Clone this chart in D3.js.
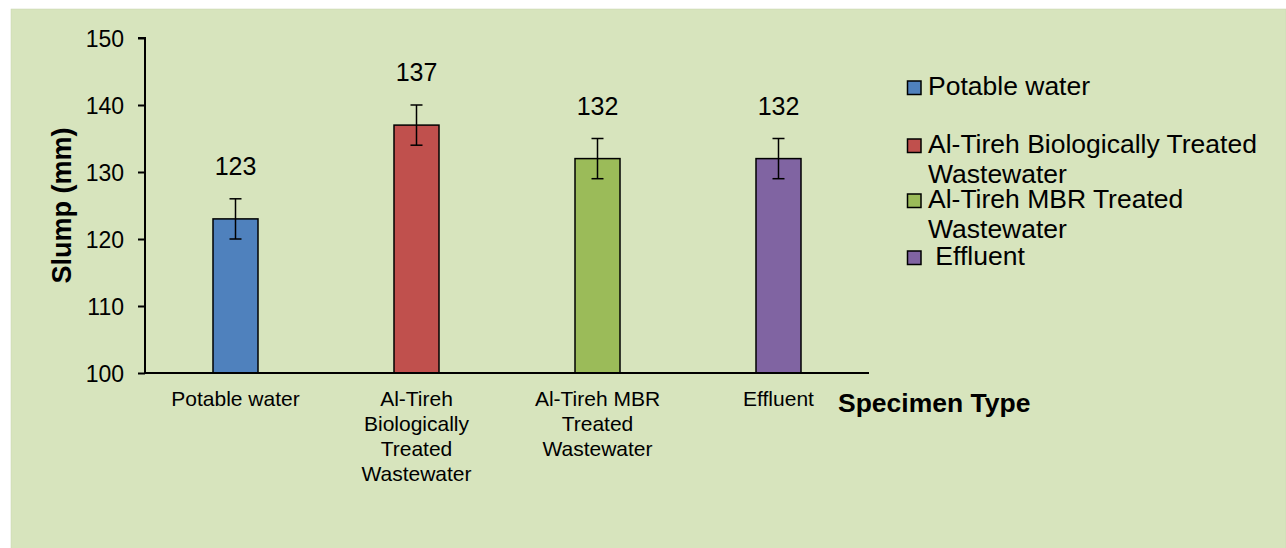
<!DOCTYPE html>
<html>
<head>
<meta charset="utf-8">
<script src="https://cdn.jsdelivr.net/npm/d3@7"></script>
<style>
  body { margin: 0; background: #ffffff; }
  svg text { font-family: Arial, "Liberation Sans", sans-serif; fill: #000; }
</style>
</head>
<body>
<div id="chart"></div>
<script>
// data
var categories = ["Potable water", "Al-Tireh Biologically Treated Wastewater", "Al-Tireh MBR Treated Wastewater", "Effluent"];
var axisLabels = [["Potable water"], ["Al-Tireh", "Biologically", "Treated", "Wastewater"], ["Al-Tireh MBR", "Treated", "Wastewater"], ["Effluent"]];
var legendLabels = [["Potable water"], ["Al-Tireh Biologically Treated", "Wastewater"], ["Al-Tireh MBR Treated", "Wastewater"], [" Effluent"]];
var slump = [123, 137, 132, 132];
var errors = [3, 3, 3, 3];
var colors = ["#4f81bd", "#c0504d", "#9bbb59", "#8064a2"];
var yTicks = [100, 110, 120, 130, 140, 150];

var svgWidth = 1286, svgHeight = 548;
var margin = { top: 38, left: 145 };
var width = 724, height = 335;

var svg = d3.select("#chart").append("svg")
  .attr("width", svgWidth)
  .attr("height", svgHeight);

// chart area background
svg.append("rect")
  .attr("x", 11).attr("y", 9)
  .attr("width", 1275).attr("height", 540)
  .attr("fill", "#d7e4bd")
  .attr("stroke", "#c8d4b0")
  .attr("stroke-width", 0.5);

var chartGroup = svg.append("g")
  .attr("transform", `translate(${margin.left}, ${margin.top})`);

var x = d3.scaleBand().domain(categories).range([0, width]);
var y = d3.scaleLinear().domain([100, 150]).range([height, 0]);

var barW = 45;

// bars
chartGroup.selectAll("rect.bar")
  .data(slump)
  .enter()
  .append("rect")
  .attr("class", "bar")
  .attr("x", (d, i) => x(categories[i]) + x.bandwidth() / 2 - barW / 2)
  .attr("y", d => y(d))
  .attr("width", barW)
  .attr("height", d => height - y(d))
  .attr("fill", (d, i) => colors[i])
  .attr("stroke", "#000")
  .attr("stroke-width", 1.5);

// error bars
var errG = chartGroup.selectAll("g.err")
  .data(slump)
  .enter()
  .append("g")
  .attr("class", "err")
  .attr("stroke", "#000")
  .attr("stroke-width", 1.5);

errG.append("line")
  .attr("x1", (d, i) => x(categories[i]) + x.bandwidth() / 2)
  .attr("x2", (d, i) => x(categories[i]) + x.bandwidth() / 2)
  .attr("y1", (d, i) => y(d - errors[i]))
  .attr("y2", (d, i) => y(d + errors[i]));
[1, -1].forEach(function(s) {
  errG.append("line")
    .attr("x1", (d, i) => x(categories[i]) + x.bandwidth() / 2 - 6)
    .attr("x2", (d, i) => x(categories[i]) + x.bandwidth() / 2 + 6)
    .attr("y1", (d, i) => y(d + s * errors[i]))
    .attr("y2", (d, i) => y(d + s * errors[i]));
});

// value labels
chartGroup.selectAll("text.val")
  .data(slump)
  .enter()
  .append("text")
  .attr("class", "val")
  .attr("x", (d, i) => x(categories[i]) + x.bandwidth() / 2)
  .attr("y", d => y(d) - 44)
  .attr("text-anchor", "middle")
  .style("font-size", "25px")
  .text(d => d);

// y axis
var leftAxis = d3.axisLeft(y).tickValues(yTicks).tickSize(7).tickPadding(14);
var yAxisG = chartGroup.append("g").call(leftAxis);
yAxisG.select(".domain").attr("stroke-width", 2).attr("d", `M-7,0H0V${height}`);
yAxisG.selectAll(".tick line").attr("stroke-width", 2);
yAxisG.selectAll(".tick text").style("font-size", "23px").attr("dy", "0.36em");

// x axis
var bottomAxis = d3.axisBottom(x).tickSize(0).tickFormat("");
var xAxisG = chartGroup.append("g")
  .attr("transform", `translate(0, ${height})`)
  .call(bottomAxis);
xAxisG.select(".domain").attr("stroke-width", 2).attr("d", `M0,0H${width}`);

// category labels
chartGroup.selectAll("text.cat")
  .data(axisLabels)
  .enter()
  .append("text")
  .attr("class", "cat")
  .attr("text-anchor", "middle")
  .style("font-size", "21px")
  .each(function(lines, i) {
    var t = d3.select(this);
    lines.forEach(function(line, j) {
      t.append("tspan")
        .attr("x", x(categories[i]) + x.bandwidth() / 2)
        .attr("y", height + 33 + j * 25)
        .text(line);
    });
  });

// axis titles
chartGroup.append("text")
  .attr("x", 693)
  .attr("y", height + 39)
  .style("font-size", "26.5px")
  .style("font-weight", "bold")
  .text("Specimen Type");

chartGroup.append("text")
  .attr("transform", `translate(${71 - margin.left}, ${height / 2}) rotate(-90)`)
  .attr("text-anchor", "middle")
  .style("font-size", "27px")
  .style("font-weight", "bold")
  .text("Slump (mm)");

// legend
var legendBase = [95, 153, 208, 265];
var legend = svg.append("g");
legendLabels.forEach(function(lines, i) {
  legend.append("rect")
    .attr("x", 907.5)
    .attr("y", legendBase[i] - 14)
    .attr("width", 13.5)
    .attr("height", 13.5)
    .attr("fill", colors[i])
    .attr("stroke", "#000")
    .attr("stroke-width", 1.5);
  var t = legend.append("text").style("font-size", "26.5px").attr("xml:space", "preserve");
  lines.forEach(function(line, j) {
    t.append("tspan")
      .attr("x", 928)
      .attr("y", legendBase[i] + j * 30)
      .text(line);
  });
});
</script>
</body>
</html>
